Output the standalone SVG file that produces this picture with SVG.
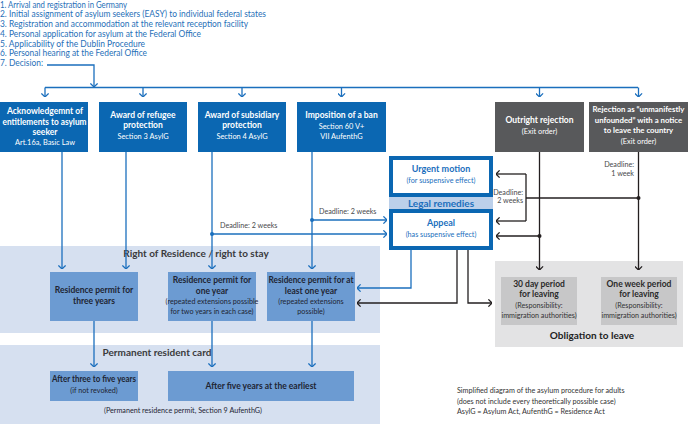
<svg xmlns="http://www.w3.org/2000/svg" width="688" height="427" viewBox="0 0 688 427">
<defs>
<marker id="ab" viewBox="0 0 10 10" refX="9.5" refY="5" markerWidth="8" markerHeight="8" markerUnits="userSpaceOnUse" orient="auto"><path d="M5,0.5 L9.5,5 L5,9.5" fill="none" stroke="#1b6fbd" stroke-width="1.6"/></marker>
<marker id="ak" viewBox="0 0 10 10" refX="9.5" refY="5" markerWidth="8" markerHeight="8" markerUnits="userSpaceOnUse" orient="auto"><path d="M5,0.5 L9.5,5 L5,9.5" fill="none" stroke="#231f20" stroke-width="1.6"/></marker>
</defs>
<style>
text{font-family:Lato,"Liberation Sans",sans-serif}
.list{font-size:8.8px;fill:#1f6fb8}
.db{fill:#0b67b2}
.gb{fill:#58595b}
.wt{font-size:8.5px;font-weight:bold;fill:#fff;text-anchor:middle}
.ws{font-size:7.4px;fill:#fff;text-anchor:middle}
.pan{fill:#d6e0f0}
.rb{fill:#6c9bd2}
.dt{font-size:8.5px;font-weight:bold;fill:#1e2533;text-anchor:middle}
.ds{font-size:7.2px;fill:#1e2533;text-anchor:middle}
.ptitle{font-size:10px;font-weight:bold;fill:#3a3a3c;text-anchor:middle}
.lr{fill:#fff;stroke:#0b67b2;stroke-width:4}
.bt{font-size:9px;font-weight:bold;fill:#1b6fbd;text-anchor:middle}
.bs{font-size:7.2px;fill:#1b6fbd;text-anchor:middle}
.dl{font-size:7.2px;fill:#4a4a4c}
.ob{fill:#e3e3e4}
.gx{fill:#c7c7c8}
.fn{font-size:7.2px;fill:#333}
.cb{fill:none;stroke:#1b6fbd;stroke-width:1.3}
.ck{fill:none;stroke:#231f20;stroke-width:1.3}
</style>
<rect width="688" height="427" fill="#fff"/>
<g id="steps" class="list">
<text x="0" y="7.5" textLength="127" lengthAdjust="spacingAndGlyphs">1. Arrival and registration in Germany</text>
<text x="0" y="17.3" textLength="266" lengthAdjust="spacingAndGlyphs">2. Initial assignment of asylum seekers (EASY) to individual federal states</text>
<text x="0" y="27" textLength="248" lengthAdjust="spacingAndGlyphs">3. Registration and accommodation at the relevant reception facility</text>
<text x="0" y="36.8" textLength="201" lengthAdjust="spacingAndGlyphs">4. Personal application for asylum at the Federal Office</text>
<text x="0" y="46.6" textLength="145" lengthAdjust="spacingAndGlyphs">5. Applicability of the Dublin Procedure</text>
<text x="0" y="56.4" textLength="147" lengthAdjust="spacingAndGlyphs">6. Personal hearing at the Federal Office</text>
<text x="0" y="66.2" textLength="43" lengthAdjust="spacingAndGlyphs">7. Decision:</text>
</g>
<g id="panel-residence"><rect class="pan" x="0" y="246" width="380" height="87"/><text class="ptitle" x="196" y="257">Right of Residence / right to stay</text></g>
<g id="panel-permanent"><rect class="pan" x="0" y="345" width="380" height="79"/><text class="ptitle" x="157" y="356">Permanent resident card</text><text class="ds" x="183" y="413">(Permanent residence permit, Section 9 AufenthG)</text></g>
<g id="panel-leave"><rect class="ob" x="495" y="261" width="188" height="86"/><text class="ptitle" x="592" y="339" style="fill:#222">Obligation to leave</text></g>
<g id="n-ack"><rect class="db" x="0" y="102" width="88" height="50"/><text class="wt" x="45" y="114">Acknowledgemnt of</text><text class="wt" x="44.5" y="124.5" textLength="84" lengthAdjust="spacingAndGlyphs">entitlements to asylum</text><text class="wt" x="45" y="134.5">seeker</text><text class="ws" x="45" y="144.5">Art.16a, Basic Law</text></g>
<g id="n-refugee"><rect class="db" x="99" y="102" width="88" height="50"/><text class="wt" x="143" y="118">Award of refugee</text><text class="wt" x="143" y="128">protection</text><text class="ws" x="143" y="139">Section 3 AsylG</text></g>
<g id="n-subsidiary"><rect class="db" x="198" y="102" width="88" height="50"/><text class="wt" x="242" y="118">Award of subsidiary</text><text class="wt" x="242" y="128">protection</text><text class="ws" x="242" y="139">Section 4 AsylG</text></g>
<g id="n-ban"><rect class="db" x="297" y="102" width="89" height="50"/><text class="wt" x="341.5" y="118">Imposition of a ban</text><text class="ws" x="341.5" y="128.5">Section 60 V+</text><text class="ws" x="341.5" y="139">VII AufenthG</text></g>
<g id="n-outright"><rect class="gb" x="495" y="102" width="89" height="50"/><text class="wt" x="539.5" y="123">Outright rejection</text><text class="ws" x="539.5" y="134">(Exit order)</text></g>
<g id="n-unfounded"><rect class="gb" x="589" y="102" width="99" height="50"/><text class="wt" x="638.5" y="112" style="font-size:7.8px">Rejection as “unmanifestly</text><text class="wt" x="638.5" y="122.5" style="font-size:7.8px">unfounded” with a notice</text><text class="wt" x="638.5" y="133" style="font-size:7.8px">to leave the country</text><text class="ws" x="638.5" y="143.5">(Exit order)</text></g>
<g id="n-urgent"><rect class="lr" x="391" y="158" width="100" height="37"/><text class="bt" x="441" y="172">Urgent motion</text><text class="bs" x="441" y="182.5">(for suspensive effect)</text></g>
<g id="n-legal"><rect x="389" y="197" width="104" height="12" fill="#bcd0ea"/><text class="bt" x="441" y="206.5" style="font-size:10px">Legal remedies</text></g>
<g id="n-appeal"><rect class="lr" x="391" y="211" width="100" height="37"/><text class="bt" x="441" y="226">Appeal</text><text class="bs" x="441" y="237">(has suspensive effect)</text></g>
<g id="n-res3"><rect class="rb" x="50" y="272" width="88" height="49"/><text class="dt" x="94" y="293">Residence permit for</text><text class="dt" x="94" y="303.5">three years</text></g>
<g id="n-res1"><rect class="rb" x="168" y="272" width="88" height="49"/><text class="dt" x="212" y="283">Residence permit for</text><text class="dt" x="212" y="293.5">one year</text><text class="ds" x="212" y="304">(repeated extensions possible</text><text class="ds" x="212" y="314">for two years in each case)</text></g>
<g id="n-resmin"><rect class="rb" x="267" y="272" width="88" height="49"/><text class="dt" x="311" y="283" textLength="85" lengthAdjust="spacingAndGlyphs">Residence permit for at</text><text class="dt" x="311" y="293.5">least one year</text><text class="ds" x="311" y="304">(repeated extensions</text><text class="ds" x="311" y="314">possible)</text></g>
<g id="n-after35"><rect class="rb" x="50" y="371" width="88" height="30"/><text class="dt" x="94" y="382" textLength="84" lengthAdjust="spacingAndGlyphs">After three to five years</text><text class="ds" x="94" y="393">(if not revoked)</text></g>
<g id="n-after5"><rect class="rb" x="168" y="371" width="186" height="30"/><text class="dt" x="261" y="388.5">After five years at the earliest</text></g>
<g id="n-30day"><rect class="gx" x="501" y="277" width="76" height="48"/><text class="dt" x="539" y="286.5" style="fill:#2a2a2a">30 day period</text><text class="dt" x="539" y="297" style="fill:#2a2a2a">for leaving</text><text class="ds" x="539" y="308" style="fill:#333">(Responsibility:</text><text class="ds" x="539" y="318" style="fill:#333">immigration authorities)</text></g>
<g id="n-1week"><rect class="gx" x="601" y="277" width="76" height="48"/><text class="dt" x="639" y="286.5" style="fill:#2a2a2a">One week period</text><text class="dt" x="639" y="297" style="fill:#2a2a2a">for leaving</text><text class="ds" x="639" y="308" style="fill:#333">(Responsibility:</text><text class="ds" x="639" y="318" style="fill:#333">immigration authorities)</text></g>
<g id="connectors">
<path class="cb" d="M47,65 H94 V87" marker-end="url(#ab)"/>
<path class="cb" d="M45,87.5 H638"/>
<path class="cb" d="M45,87.5 V97" marker-end="url(#ab)"/>
<path class="cb" d="M143,87.5 V97" marker-end="url(#ab)"/>
<path class="cb" d="M242,87.5 V97" marker-end="url(#ab)"/>
<path class="cb" d="M341.5,87.5 V97" marker-end="url(#ab)"/>
<path class="cb" d="M539.5,87.5 V97" marker-end="url(#ab)"/>
<path class="cb" d="M638.5,87.5 V97" marker-end="url(#ab)"/>
<path class="cb" d="M62,152 V269" marker-end="url(#ab)"/>
<path class="cb" d="M126,152 V269" marker-end="url(#ab)"/>
<path class="cb" d="M212,152 V269" marker-end="url(#ab)"/>
<path class="cb" d="M312,152 V269" marker-end="url(#ab)"/>
<path class="cb" d="M312,220 H387" marker-end="url(#ab)"/>
<path class="cb" d="M212,234 H387" marker-end="url(#ab)"/>
<circle cx="312" cy="220" r="2" fill="#1b6fbd"/>
<circle cx="212" cy="234" r="2" fill="#1b6fbd"/>
<text class="dl" x="319" y="214">Deadline: 2 weeks</text>
<text class="dl" x="220" y="228">Deadline: 2 weeks</text>
<path class="cb" d="M411,250 V288 H357" marker-end="url(#ab)"/>
<path class="ck" d="M457,250 V303 H357" marker-end="url(#ak)"/>
<path class="ck" d="M468,250 V303 H492" marker-end="url(#ak)"/>
<path class="cb" d="M94,321 V367" marker-end="url(#ab)"/>
<path class="cb" d="M212,321 V367" marker-end="url(#ab)"/>
<path class="cb" d="M312,321 V367" marker-end="url(#ab)"/>
<path class="ck" d="M539.5,152 V270" marker-end="url(#ak)"/>
<path class="ck" d="M638.5,152 V270" marker-end="url(#ak)"/>
<path class="ck" d="M539.5,236 H496" marker-end="url(#ak)"/>
<path class="ck" d="M638.5,198 H526"/>
<path class="ck" d="M526,174 V221"/>
<path class="ck" d="M526,174 H496" marker-end="url(#ak)"/>
<path class="ck" d="M526,221 H496" marker-end="url(#ak)"/>
<circle cx="539.5" cy="236" r="2" fill="#231f20"/>
<circle cx="638.5" cy="198" r="2" fill="#231f20"/>
<text class="dl" x="523" y="194.5" text-anchor="end">Deadline:</text>
<text class="dl" x="523" y="203" text-anchor="end">2 weeks</text>
<text class="dl" x="634" y="166.5" text-anchor="end">Deadline:</text>
<text class="dl" x="634" y="175.5" text-anchor="end">1 week</text>
</g>
<g id="footnote" class="fn">
<text x="457" y="393">Simplified diagram of the asylum procedure for adults</text>
<text x="457" y="403.5">(does not include every theoretically possible case)</text>
<text x="457" y="414">AsylG = Asylum Act, AufenthG = Residence Act</text>
</g>
</svg>
